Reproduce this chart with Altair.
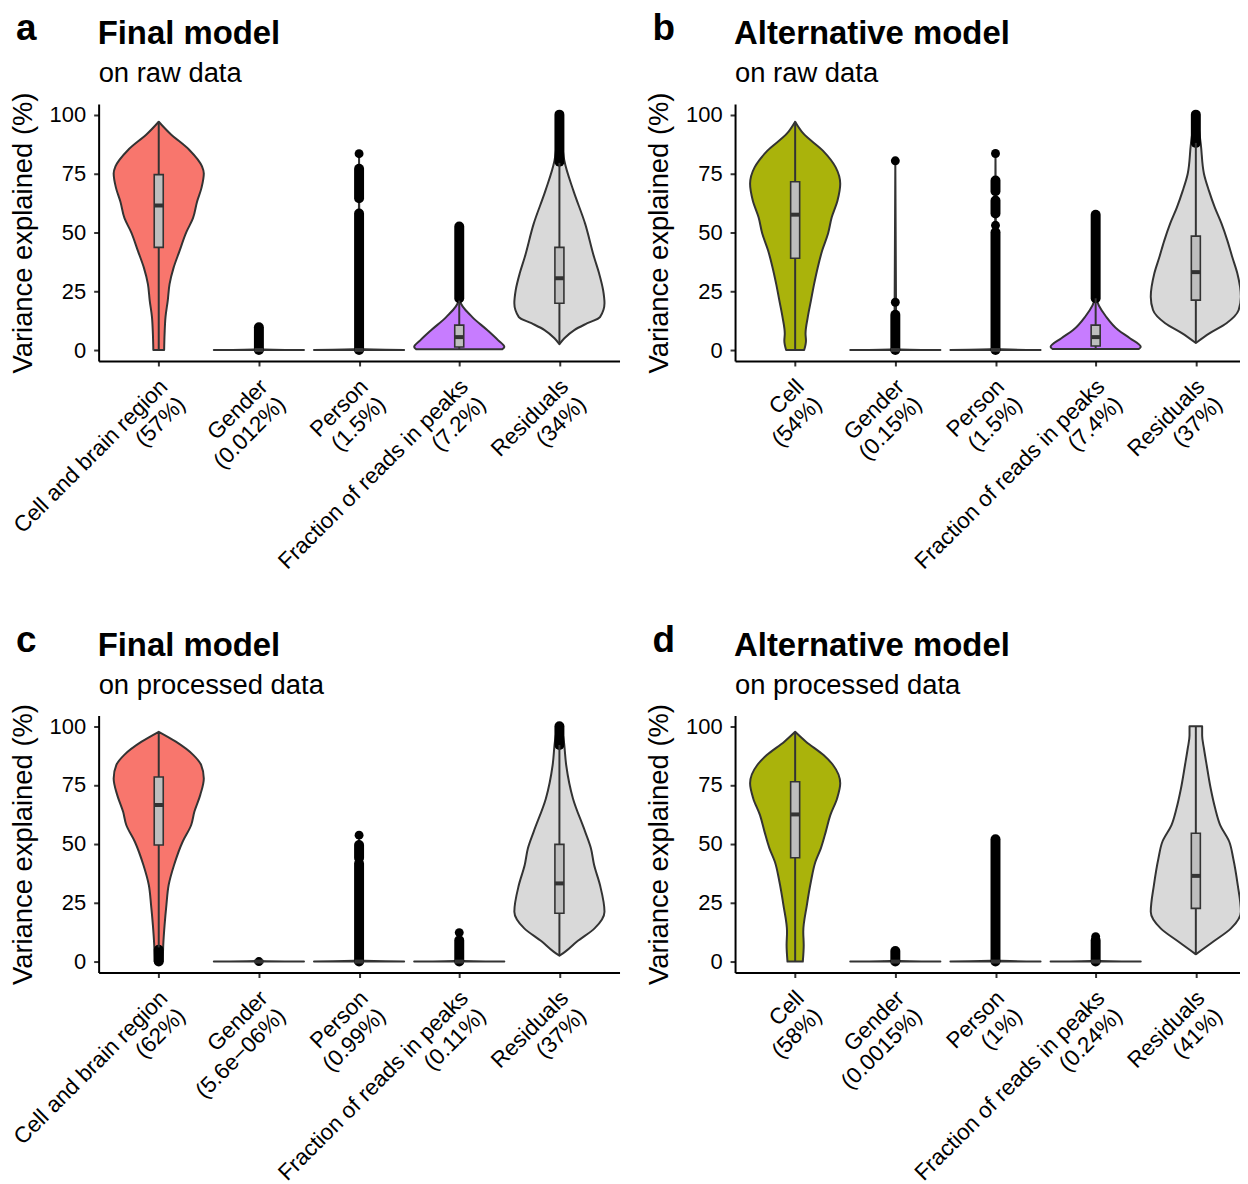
import json
import altair as alt
import pandas as pd

FONT = "Liberation Sans"

# ---------------- panel texts ----------------
PANEL_LETTERS = ["a", "b", "c", "d"]
PANEL_TITLES = ["Final model", "Alternative model", "Final model", "Alternative model"]
PANEL_SUBTITLES = ["on raw data", "on raw data", "on processed data", "on processed data"]

CATS_FINAL = ["Cell and brain region", "Gender", "Person", "Fraction of reads in peaks", "Residuals"]
CATS_ALT = ["Cell", "Gender", "Person", "Fraction of reads in peaks", "Residuals"]
PCT_A = ["57%", "0.012%", "1.5%", "7.2%", "34%"]
PCT_B = ["54%", "0.15%", "1.5%", "7.4%", "37%"]
PCT_C = ["62%", "5.6e\u221206%", "0.99%", "0.11%", "37%"]
PCT_D = ["58%", "0.0015%", "1%", "0.24%", "41%"]

FILL_FINAL = ["#F8766D", "#333333", "#333333", "#C77CFF", "#D9D9D9"]
FILL_ALT = ["#AAB30B", "#333333", "#333333", "#C77CFF", "#D9D9D9"]

Y_TICKS = [0, 25, 50, 75, 100]

# ---------------- violin outlines: levels (%) and relative half-widths ----------------
# panel a
A_CELL_V = [0, 7, 14, 21, 28, 35, 42, 50, 56, 63, 69, 75, 78, 85, 92, 97]
A_CELL_W = [0.12, 0.13, 0.15, 0.2, 0.24, 0.33, 0.46, 0.61, 0.76, 0.85, 0.95, 1.0, 0.96, 0.68, 0.25, 0.0]
A_GEND_V = [0, 0.3, 9.7]
A_GEND_W = [1.0, 0.02, 0.0]
A_PERS_V = [0, 0.4, 83.4]
A_PERS_W = [1.0, 0.02, 0.0]
A_FRIP_V = [0.3, 1.3, 4.2, 8.5, 14, 21, 30, 52.5]
A_FRIP_W = [0.95, 1.0, 0.86, 0.62, 0.29, 0.02, 0.01, 0.0]
A_RESI_V = [2.5, 5, 8.5, 11.4, 14, 19.9, 25.4, 32.6, 39.4, 53.7, 67.7, 80.4, 90, 100]
A_RESI_W = [0.0, 0.11, 0.33, 0.62, 0.9, 1.0, 0.97, 0.88, 0.77, 0.57, 0.31, 0.11, 0.05, 0.02]
# panel b
B_CELL_V = [0, 4, 7, 14, 21, 28, 35, 42.3, 49.5, 56.3, 63.5, 70.6, 77.6, 84.6, 92, 97]
B_CELL_W = [0.2, 0.24, 0.23, 0.28, 0.35, 0.42, 0.5, 0.6, 0.73, 0.81, 0.94, 1.0, 0.9, 0.62, 0.18, 0.0]
B_GEND_V = [0, 0.3, 80.4]
B_GEND_W = [1.0, 0.02, 0.0]
B_PERS_V = [0, 0.4, 83.5]
B_PERS_W = [1.0, 0.02, 0.0]
B_FRIP_V = [0.4, 1.3, 5, 8.5, 14, 22, 35, 58]
B_FRIP_W = [0.95, 1.0, 0.76, 0.5, 0.24, 0.02, 0.01, 0.0]
B_RESI_V = [3, 7.2, 11.4, 17, 22.6, 32.6, 39.4, 46.5, 53.7, 60.6, 67.7, 74.9, 87.5, 95, 100]
B_RESI_W = [0.0, 0.31, 0.68, 0.95, 1.0, 0.92, 0.81, 0.7, 0.57, 0.42, 0.29, 0.18, 0.11, 0.06, 0.03]
# panel c
C_CELL_V = [0, 7, 15.6, 24, 32.5, 41, 50.9, 58, 63.6, 70.7, 77.8, 83.5, 87.7, 93.4, 97.6]
C_CELL_W = [0.09, 0.1, 0.13, 0.17, 0.22, 0.34, 0.53, 0.72, 0.79, 0.92, 1.0, 0.94, 0.77, 0.38, 0.0]
C_GEND_V = [0, 0.3, 0.5]
C_GEND_W = [1.0, 0.02, 0.0]
C_PERS_V = [0, 0.4, 53.7]
C_PERS_W = [1.0, 0.02, 0.0]
C_FRIP_V = [0, 0.3, 12.3]
C_FRIP_W = [1.0, 0.02, 0.0]
C_RESI_V = [2.5, 4.2, 8.5, 14.1, 21.2, 32.5, 41, 48, 55.2, 69.3, 83.5, 93.4, 99.7]
C_RESI_W = [0.0, 0.13, 0.39, 0.78, 1.0, 0.9, 0.77, 0.7, 0.57, 0.3, 0.15, 0.1, 0.05]
# panel d
D_CELL_V = [0, 7, 12.7, 24, 34, 42.4, 48.1, 55.2, 62.2, 69.3, 75.7, 83.5, 87.7, 93.4, 97.6]
D_CELL_W = [0.17, 0.19, 0.18, 0.26, 0.35, 0.45, 0.57, 0.68, 0.78, 0.93, 1.0, 0.84, 0.63, 0.24, 0.0]
D_GEND_V = [0, 0.3, 4.5]
D_GEND_W = [1.0, 0.02, 0.0]
D_PERS_V = [0, 0.4, 52.3]
D_PERS_W = [1.0, 0.02, 0.0]
D_FRIP_V = [0, 0.3, 10.6]
D_FRIP_W = [1.0, 0.02, 0.0]
D_RESI_V = [3.1, 8.5, 14.1, 21.2, 32.5, 43.8, 51, 58, 65, 73.5, 83.5, 90.5, 96, 100]
D_RESI_W = [0.0, 0.39, 0.78, 1.0, 0.93, 0.83, 0.74, 0.54, 0.43, 0.33, 0.24, 0.18, 0.14, 0.14]

# ---------------- box plots: q1, median, q3, lower whisker, upper whisker ----------------
A_Q1 = [43.6, 0, 0, 1.3, 19.9]
A_MED = [61.4, 0, 0, 5.5, 30.5]
A_Q3 = [74.5, 0, 0, 10.6, 43.6]
A_WLO = [0, 0, 0, 0.3, 2.5]
A_WHI = [97, 0, 0, 21, 79.5]

B_Q1 = [39, 0, 0, 1.7, 21.2]
B_MED = [57.5, 0, 0, 5.5, 33.1]
B_Q3 = [71.5, 0, 0, 10.6, 48.4]
B_WLO = [0, 0, 0, 0.4, 3]
B_WHI = [97, 0, 0, 22, 88]

C_Q1 = [49.5, 0, 0, 0, 20.5]
C_MED = [66.5, 0, 0, 0, 33.2]
C_Q3 = [78.4, 0, 0, 0, 49.8]
C_WLO = [6, 0, 0, 0, 2.8]
C_WHI = [97, 0, 0, 0, 92]

D_Q1 = [44.1, 0, 0, 0, 22.6]
D_MED = [62.5, 0, 0, 0, 36.4]
D_Q3 = [76.4, 0, 0, 0, 54.5]
D_WLO = [0, 0, 0, 0, 3.1]
D_WHI = [97, 0, 0, 0, 100]

# ---------------- outliers: dense stacks (category no., from, to) and single points ----------------
A_RUN_CAT = [2, 3, 3, 4, 5]
A_RUN_LO = [0, 0, 64.5, 22, 80]
A_RUN_HI = [9.7, 58, 77, 52.5, 100]
A_PT_CAT = [3]
A_PT_VAL = [83.4]

B_RUN_CAT = [2, 3, 3, 3, 4, 5]
B_RUN_LO = [0, 0, 58, 67.5, 22, 88]
B_RUN_HI = [15, 50, 63.5, 72, 57.5, 100]
B_PT_CAT = [2, 2, 3, 3]
B_PT_VAL = [20.3, 80.4, 53, 83.5]

C_RUN_CAT = [1, 3, 3, 4, 5]
C_RUN_LO = [0, 0, 44, 0, 92]
C_RUN_HI = [5, 41.7, 49.5, 9, 100]
C_PT_CAT = [2, 3, 4]
C_PT_VAL = [0, 53.7, 12.3]

D_RUN_CAT = [2, 3, 4]
D_RUN_LO = [0, 0, 0]
D_RUN_HI = [4.5, 52, 9]
D_PT_CAT = [4]
D_PT_VAL = [10.6]

Y_DOMAIN = [-4.65, 104.5]
PANEL_H = 258
LEFT_W = 523
RIGHT_W = 507
UNIT_PX = LEFT_W / 5.2


def build_panel(letter, title, subtitle, cats, pcts, fills, profiles, box, runs, pts, width):
    xmax = 0.4 + width / UNIT_PX
    xscale = alt.Scale(domain=[0.4, xmax], nice=False, zero=False)
    yscale = alt.Scale(domain=Y_DOMAIN, nice=False, zero=False)

    labels = [[c, "(" + p + ")"] for c, p in zip(cats, pcts)]
    label_expr = json.dumps(labels, ensure_ascii=False) + "[round(datum.value) - 1]"

    xaxis = alt.Axis(
        values=[1, 2, 3, 4, 5], title=None, labelExpr=label_expr, labelAngle=-45,
        labelAlign="right", labelBaseline="top", labelFontSize=22.5, labelFont=FONT,
        labelColor="black", labelPadding=9, labelOffset=-3, labelLineHeight=25,
        labelOverlap=False, labelFlush=False, labelLimit=0, tickSize=5, tickWidth=2,
        tickColor="#333333", domainColor="black", domainWidth=2, grid=False,
    )
    yaxis = alt.Axis(
        values=Y_TICKS, title="Variance explained (%)", titleFontSize=27.5,
        titleFont=FONT, titleFontWeight="normal", titleColor="black", titlePadding=12,
        labelFontSize=22, labelFont=FONT, labelColor="black", labelPadding=8,
        tickSize=5, tickWidth=2, tickColor="#333333", domainColor="black",
        domainWidth=2, grid=False,
    )

    vrows = []
    for i, (lv, wd) in enumerate(profiles):
        for v, w in zip(lv, wd):
            vrows.append({"cat": cats[i], "col": fills[i], "pos": i + 1, "v": v, "w": w})
    vdf = pd.DataFrame(vrows)

    q1, med, q3, wlo, whi = box
    bdf = pd.DataFrame({"pos": [1, 2, 3, 4, 5], "q1": q1, "med": med, "q3": q3,
                        "wlo": wlo, "whi": whi})
    rc, rlo, rhi = runs
    rdf = pd.DataFrame({"pos": rc, "lo": rlo, "hi": rhi})
    pc, pv = pts
    pdf = pd.DataFrame({"pos": pc, "val": pv})

    violin = alt.Chart(vdf).transform_calculate(
        xl="datum.pos - datum.w * 0.45", xr="datum.pos + datum.w * 0.45"
    ).mark_area(orient="horizontal", stroke="#333333", strokeWidth=2, opacity=1,
                strokeJoin="round", interpolate="monotone", clip=True).encode(
        y=alt.Y("v:Q", scale=yscale, axis=yaxis),
        x=alt.X("xl:Q", scale=xscale, axis=xaxis, stack=None),
        x2="xr:Q",
        fill=alt.Fill("col:N", scale=None, legend=None),
        detail="cat:N",
    )

    out_runs = alt.Chart(rdf).mark_rule(color="black", strokeWidth=10, strokeCap="round",
                                        clip=True).encode(
        x=alt.X("pos:Q", scale=xscale), y=alt.Y("lo:Q", scale=yscale), y2="hi:Q")
    out_pts = alt.Chart(pdf).mark_circle(color="black", size=80, opacity=1).encode(
        x=alt.X("pos:Q", scale=xscale), y=alt.Y("val:Q", scale=yscale))

    whisk = alt.Chart(bdf).mark_rule(color="#333333", strokeWidth=2).encode(
        x=alt.X("pos:Q", scale=xscale), y=alt.Y("wlo:Q", scale=yscale), y2="whi:Q")
    boxes = alt.Chart(bdf).transform_calculate(
        bl="datum.pos - 0.045", br="datum.pos + 0.045"
    ).mark_rect(fill="#BEBEBE", stroke="#333333", strokeWidth=1.6).encode(
        x=alt.X("bl:Q", scale=xscale), x2="br:Q",
        y=alt.Y("q1:Q", scale=yscale), y2="q3:Q")
    medians = alt.Chart(bdf).transform_calculate(
        bl="datum.pos - 0.045", br="datum.pos + 0.045"
    ).mark_rule(color="#333333", strokeWidth=4).encode(
        x=alt.X("bl:Q", scale=xscale), x2="br:Q", y=alt.Y("med:Q", scale=yscale))

    tdf = pd.DataFrame({"letter": [letter], "title": [title], "subtitle": [subtitle]})
    t_letter = alt.Chart(tdf).mark_text(
        align="left", baseline="alphabetic", font=FONT, fontSize=37, fontWeight="bold",
        color="black").encode(x=alt.value(-83), y=alt.value(-64), text="letter:N")
    t_title = alt.Chart(tdf).mark_text(
        align="left", baseline="alphabetic", font=FONT, fontSize=33, fontWeight="bold",
        color="black").encode(x=alt.value(-1), y=alt.value(-60), text="title:N")
    t_sub = alt.Chart(tdf).mark_text(
        align="left", baseline="alphabetic", font=FONT, fontSize=27.5,
        color="black").encode(x=alt.value(0), y=alt.value(-22), text="subtitle:N")

    return alt.layer(
        violin, out_runs, out_pts, whisk, boxes, medians, t_letter, t_title, t_sub
    ).properties(width=width, height=PANEL_H)


pa = build_panel(
    PANEL_LETTERS[0], PANEL_TITLES[0], PANEL_SUBTITLES[0], CATS_FINAL, PCT_A, FILL_FINAL,
    [(A_CELL_V, A_CELL_W), (A_GEND_V, A_GEND_W), (A_PERS_V, A_PERS_W),
     (A_FRIP_V, A_FRIP_W), (A_RESI_V, A_RESI_W)],
    (A_Q1, A_MED, A_Q3, A_WLO, A_WHI), (A_RUN_CAT, A_RUN_LO, A_RUN_HI),
    (A_PT_CAT, A_PT_VAL), LEFT_W)
pb = build_panel(
    PANEL_LETTERS[1], PANEL_TITLES[1], PANEL_SUBTITLES[1], CATS_ALT, PCT_B, FILL_ALT,
    [(B_CELL_V, B_CELL_W), (B_GEND_V, B_GEND_W), (B_PERS_V, B_PERS_W),
     (B_FRIP_V, B_FRIP_W), (B_RESI_V, B_RESI_W)],
    (B_Q1, B_MED, B_Q3, B_WLO, B_WHI), (B_RUN_CAT, B_RUN_LO, B_RUN_HI),
    (B_PT_CAT, B_PT_VAL), RIGHT_W)
pc = build_panel(
    PANEL_LETTERS[2], PANEL_TITLES[2], PANEL_SUBTITLES[2], CATS_FINAL, PCT_C, FILL_FINAL,
    [(C_CELL_V, C_CELL_W), (C_GEND_V, C_GEND_W), (C_PERS_V, C_PERS_W),
     (C_FRIP_V, C_FRIP_W), (C_RESI_V, C_RESI_W)],
    (C_Q1, C_MED, C_Q3, C_WLO, C_WHI), (C_RUN_CAT, C_RUN_LO, C_RUN_HI),
    (C_PT_CAT, C_PT_VAL), LEFT_W)
pd_ = build_panel(
    PANEL_LETTERS[3], PANEL_TITLES[3], PANEL_SUBTITLES[3], CATS_ALT, PCT_D, FILL_ALT,
    [(D_CELL_V, D_CELL_W), (D_GEND_V, D_GEND_W), (D_PERS_V, D_PERS_W),
     (D_FRIP_V, D_FRIP_W), (D_RESI_V, D_RESI_W)],
    (D_Q1, D_MED, D_Q3, D_WLO, D_WHI), (D_RUN_CAT, D_RUN_LO, D_RUN_HI),
    (D_PT_CAT, D_PT_VAL), RIGHT_W)

row1 = alt.hconcat(pa, pb, spacing=26)
row2 = alt.hconcat(pc, pd_, spacing=26)
chart = alt.vconcat(row1, row2, spacing=31).properties(
    padding={"left": 1, "right": 0, "top": 0, "bottom": 0}
).configure(background="white").configure_view(stroke=None)

chart.save("out.html", embed_options={"renderer": "svg", "actions": False})
